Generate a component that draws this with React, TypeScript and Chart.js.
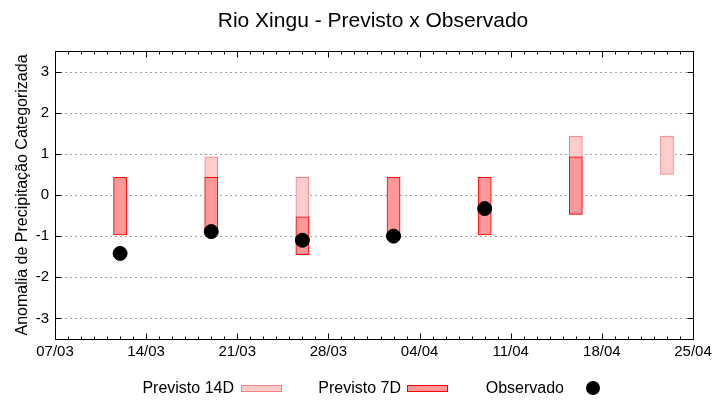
import React, { useEffect, useRef } from "react";
import { Chart, registerables } from "chart.js";

Chart.register(...registerables);

// ---- data ----
const titleText = "Rio Xingu - Previsto x Observado";
const yAxisTitle = "Anomalia de Precipitação Categorizada";
const xTickDays = [0, 7, 14, 21, 28, 35, 42, 49]; // days since 07/03
const xTickLabels = ["07/03", "14/03", "21/03", "28/03", "04/04", "11/04", "18/04", "25/04"];
const yTickValues = [-3, -2, -1, 0, 1, 2, 3];

const forecastDays = [5, 12, 19, 26, 33, 40, 47];
const prev14Low = [-0.97, -0.9, -1.45, -1.0, -0.97, -0.47, 0.5];
const prev14High = [0.43, 0.93, 0.43, 0.43, 0.43, 1.43, 1.43];
const prev7Low: (number | null)[] = [-0.97, -0.9, -1.45, -1.0, -0.97, -0.47, null];
const prev7High: (number | null)[] = [0.43, 0.43, -0.53, 0.43, 0.43, 0.93, null];

const obsDays = [5, 12, 19, 26, 33];
const obsValues = [-1.42, -0.89, -1.1, -1.0, -0.33];

const legendLabels = ["Previsto 14D", "Previsto 7D", "Observado"];

// ---- styles ----
const FONT = "'Liberation Sans', Arial, sans-serif";
const c14Fill = "rgb(255,204,204)";
const c14Border = "rgb(240,128,128)";
const c7Fill = "rgb(255,153,153)";
const c7Border = "rgb(255,0,0)";

const decorPlugin = {
  id: "decor",
  beforeDatasetsDraw(chart: any) {
    const { ctx, chartArea: a, scales } = chart;
    const y = scales.y;
    ctx.save();
    ctx.strokeStyle = "#a0a0a0";
    ctx.lineWidth = 1;
    ctx.setLineDash([2, 3]);
    for (const v of yTickValues) {
      const py = Math.round(y.getPixelForValue(v)) + 0.5;
      ctx.beginPath();
      ctx.moveTo(a.left, py);
      ctx.lineTo(a.right, py);
      ctx.stroke();
    }
    ctx.restore();
  },
  afterDatasetsDraw(chart: any) {
    const { ctx, chartArea: a, scales } = chart;
    const x = scales.x;
    const y = scales.y;
    ctx.save();
    ctx.strokeStyle = "#000";
    ctx.lineWidth = 1;
    ctx.setLineDash([]);
    const L = Math.round(a.left) + 0.5;
    const R = Math.round(a.right) + 0.5;
    const T = Math.round(a.top) + 0.5;
    const B = Math.round(a.bottom) + 0.5;
    ctx.strokeRect(L, T, R - L, B - T);
    // x ticks (minor every day, major every week)
    ctx.beginPath();
    for (let d = xTickDays[0]; d <= xTickDays[xTickDays.length - 1]; d++) {
      const px = Math.round(x.getPixelForValue(d)) + 0.5;
      const len = xTickDays.includes(d) ? 6 : 3;
      ctx.moveTo(px, B);
      ctx.lineTo(px, B - len);
      ctx.moveTo(px, T);
      ctx.lineTo(px, T + len);
    }
    for (const v of yTickValues) {
      const py = Math.round(y.getPixelForValue(v)) + 0.5;
      ctx.moveTo(L, py);
      ctx.lineTo(L + 6, py);
      ctx.moveTo(R, py);
      ctx.lineTo(R - 6, py);
    }
    ctx.stroke();

    // title
    ctx.fillStyle = "#000";
    ctx.font = `21px ${FONT}`;
    ctx.textAlign = "center";
    ctx.textBaseline = "alphabetic";
    ctx.fillText(titleText, (a.left + a.right) / 2 - 1, 27);

    // y axis title
    ctx.save();
    ctx.translate(27, (a.top + a.bottom) / 2);
    ctx.rotate(-Math.PI / 2);
    ctx.font = `16px ${FONT}`;
    ctx.textAlign = "center";
    ctx.textBaseline = "alphabetic";
    ctx.fillText(yAxisTitle, 0, 0);
    ctx.restore();

    // legend
    ctx.font = `16px ${FONT}`;
    ctx.textAlign = "right";
    ctx.textBaseline = "alphabetic";
    ctx.fillText(legendLabels[0], 234, 393);
    ctx.fillStyle = c14Fill;
    ctx.fillRect(241.5, 385.5, 40, 6);
    ctx.strokeStyle = c14Border;
    ctx.strokeRect(241.5, 385.5, 40, 6);

    ctx.fillStyle = "#000";
    ctx.fillText(legendLabels[1], 401, 393);
    ctx.fillStyle = c7Fill;
    ctx.fillRect(407.5, 385.5, 40, 6);
    ctx.strokeStyle = c7Border;
    ctx.strokeRect(407.5, 385.5, 40, 6);

    ctx.fillStyle = "#000";
    ctx.fillText(legendLabels[2], 564, 393);
    ctx.beginPath();
    ctx.arc(593, 388, 7, 0, Math.PI * 2);
    ctx.fill();
    ctx.restore();
  },
};

export default function App() {
  const ref = useRef<HTMLCanvasElement>(null);

  useEffect(() => {
    if (!ref.current) return;
    Chart.defaults.font.family = FONT;
    Chart.defaults.color = "#000";

    const d14 = forecastDays.map((d, i) => ({ x: d, y: [prev14Low[i], prev14High[i]] }));
    const d7 = forecastDays
      .map((d, i) => ({ x: d, lo: prev7Low[i], hi: prev7High[i] }))
      .filter((p) => p.lo !== null && p.hi !== null)
      .map((p) => ({ x: p.x, y: [p.lo as number, p.hi as number] }));
    const dObs = obsDays.map((d, i) => ({ x: d, y: obsValues[i] }));

    const chart = new Chart(ref.current, {
      type: "bar",
      data: {
        datasets: [
          {
            type: "scatter",
            label: legendLabels[2],
            data: dObs,
            backgroundColor: "#000",
            borderColor: "#000",
            pointRadius: 7,
            pointHoverRadius: 7,
            order: 0,
          } as any,
          {
            label: legendLabels[1],
            data: d7 as any,
            backgroundColor: c7Fill,
            borderColor: c7Border,
            borderWidth: 1,
            borderSkipped: false,
            barThickness: 13,
            grouped: false,
            order: 1,
          },
          {
            label: legendLabels[0],
            data: d14 as any,
            backgroundColor: c14Fill,
            borderColor: c14Border,
            borderWidth: 1,
            borderSkipped: false,
            barThickness: 13,
            grouped: false,
            order: 2,
          },
        ],
      },
      options: {
        animation: false,
        responsive: true,
        maintainAspectRatio: false,
        events: [],
        layout: { padding: { top: 51, right: 27, left: 0, bottom: 0 } },
        plugins: {
          legend: { display: false },
          title: { display: false },
          tooltip: { enabled: false },
        },
        scales: {
          x: {
            type: "linear",
            offset: false,
            min: xTickDays[0],
            max: xTickDays[xTickDays.length - 1],
            grid: { display: false, drawTicks: false },
            border: { display: false },
            afterBuildTicks: (s: any) => {
              s.ticks = xTickDays.map((v) => ({ value: v }));
            },
            afterFit: (s: any) => {
              s.height = 61;
            },
            ticks: {
              padding: 4,
              maxRotation: 0,
              autoSkip: false,
              font: { size: 15, family: FONT },
              color: "#000",
              callback: (v: any) => xTickLabels[xTickDays.indexOf(Number(v))] ?? "",
            },
          },
          y: {
            min: -3.5,
            max: 3.5,
            grid: { display: false, drawTicks: false },
            border: { display: false },
            afterBuildTicks: (s: any) => {
              s.ticks = yTickValues.map((v) => ({ value: v }));
            },
            afterFit: (s: any) => {
              s.width = 55;
            },
            ticks: {
              padding: 6,
              font: { size: 15, family: FONT },
              color: "#000",
              callback: (v: any) => String(v),
            },
          },
        },
      },
      plugins: [decorPlugin],
    });
    return () => chart.destroy();
  }, []);

  return (
    <div style={{ position: "absolute", left: 0, top: 0, width: 720, height: 400, background: "#fff" }}>
      <canvas ref={ref} />
    </div>
  );
}
